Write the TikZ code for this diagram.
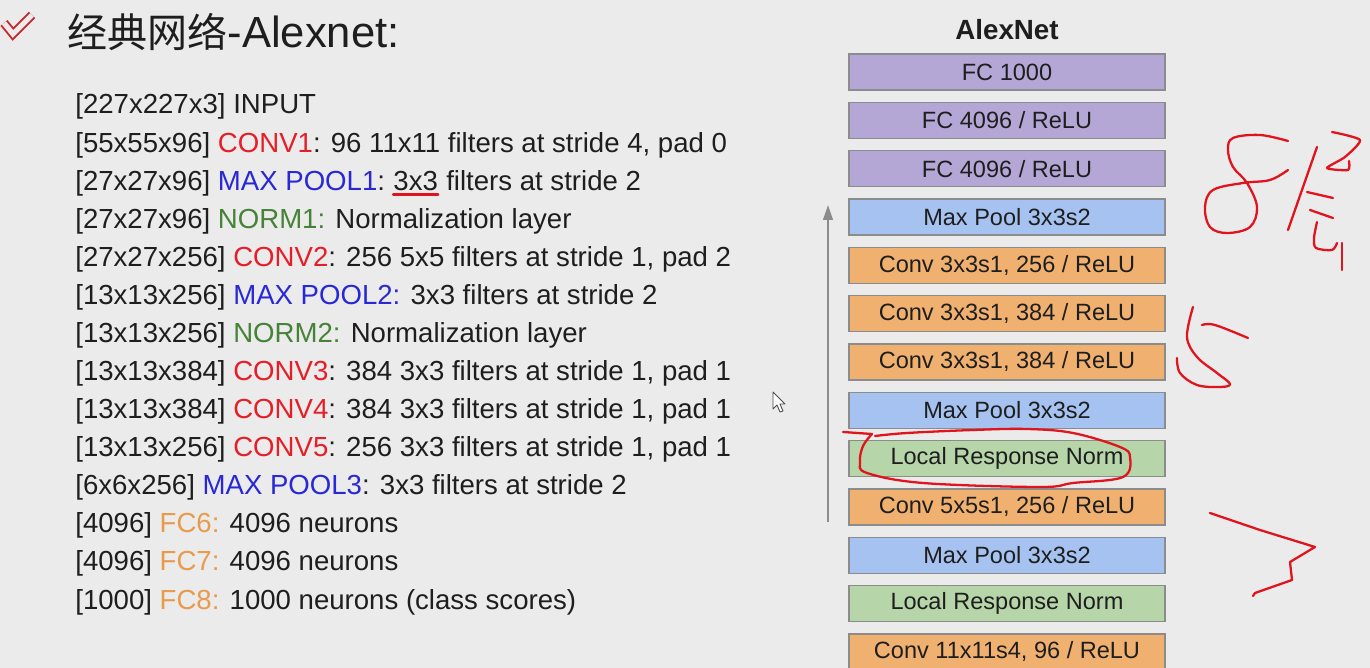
\documentclass[tikz,border=0pt]{standalone}
\usepackage{fontspec}
\setmainfont{Liberation Sans}
\newfontfamily\cjkfont{Noto Sans CJK SC}
\usetikzlibrary{arrows.meta,positioning}
\definecolor{bg}{RGB}{235,235,235}
\definecolor{fcpurple}{RGB}{180,167,214}
\definecolor{poolblue}{RGB}{166,194,240}
\definecolor{convorange}{RGB}{240,177,112}
\definecolor{normgreen}{RGB}{182,213,168}
\definecolor{boxgray}{RGB}{140,140,140}
\definecolor{convred}{RGB}{230,30,40}
\definecolor{pooltext}{RGB}{40,40,215}
\definecolor{normtext}{RGB}{70,130,55}
\definecolor{fctext}{RGB}{232,155,75}
\definecolor{inkred}{RGB}{225,20,30}
\definecolor{checkred}{RGB}{200,40,45}
\definecolor{textblack}{RGB}{30,30,30}

\begin{document}
\begin{tikzpicture}[x=0.02cm,y=-0.02cm]

	\def\lh{38.08}
	\def\bh{48.33}

	\tikzset{layer/.style={draw=boxgray,line width=0.8pt,minimum width=6.32cm,minimum height=0.72cm,inner sep=0pt,font=\fontsize{13.4}{16}\selectfont,text=textblack}}
	\tikzset{spec/.style={anchor=base west,inner sep=0pt,font=\fontsize{15.7}{18}\selectfont,text=textblack}}
	\tikzset{ink/.style={draw=inkred,line width=1.3pt,line cap=round,line join=round}}

	\fill[bg] (0,0) rectangle (1370,668);
	\useasboundingbox (0,0) rectangle (1370,668);

	% title with check mark
	\draw[checkred,line width=1.1pt,double=bg,double distance=3pt,line join=miter] (4,23) -- (13,34) -- (32,15);
	\node[anchor=west,inner sep=0pt,text=textblack] (title) at (67,32) {{\cjkfont\fontsize{22.8}{26}\selectfont 经典网络}{\fontsize{24.8}{28}\selectfont -Alexnet:}};

	% layer list
	\node[spec] (l0) at (75,114) {[227x227x3] INPUT};
	\node[spec] (l1) at (75,114+\lh) {[55x55x96] \textcolor{convred}{CONV1}: 96 11x11 filters at stride 4, pad 0};
	\node[spec] (l2) at (75,114+2*\lh) {[27x27x96] \textcolor{pooltext}{MAX POOL1}:\ \mbox{}};
	\node[spec] (l2u) at (l2.base east) {3x3};
	\node[spec] (l2r) at (l2u.base east) {\mbox{}\ filters at stride 2};
	\node[spec] (l3) at (75,114+3*\lh) {[27x27x96] \textcolor{normtext}{NORM1:} Normalization layer};
	\node[spec] (l4) at (75,114+4*\lh) {[27x27x256] \textcolor{convred}{CONV2}: 256 5x5 filters at stride 1, pad 2};
	\node[spec] (l5) at (75,114+5*\lh) {[13x13x256] \textcolor{pooltext}{MAX POOL2:} 3x3 filters at stride 2};
	\node[spec] (l6) at (75,114+6*\lh) {[13x13x256] \textcolor{normtext}{NORM2:} Normalization layer};
	\node[spec] (l7) at (75,114+7*\lh) {[13x13x384] \textcolor{convred}{CONV3}: 384 3x3 filters at stride 1, pad 1};
	\node[spec] (l8) at (75,114+8*\lh) {[13x13x384] \textcolor{convred}{CONV4}: 384 3x3 filters at stride 1, pad 1};
	\node[spec] (l9) at (75,114+9*\lh) {[13x13x256] \textcolor{convred}{CONV5}: 256 3x3 filters at stride 1, pad 1};
	\node[spec] (l10) at (75,114+10*\lh) {[6x6x256] \textcolor{pooltext}{MAX POOL3}: 3x3 filters at stride 2};
	\node[spec] (l11) at (75,114+11*\lh) {[4096] \textcolor{fctext}{FC6:} 4096 neurons};
	\node[spec] (l12) at (75,114+12*\lh) {[4096] \textcolor{fctext}{FC7:} 4096 neurons};
	\node[spec] (l13) at (75,114+13*\lh) {[1000] \textcolor{fctext}{FC8:} 1000 neurons (class scores)};

	% AlexNet stack
	\node[inner sep=0pt,font=\bfseries\fontsize{15.8}{19}\selectfont,text=textblack] (net) at (1007,30) {AlexNet};
	\node[layer,fill=fcpurple] (fc8) at (1007,72) {FC 1000};
	\node[layer,fill=fcpurple] (fc7) at (1007,72+\bh) {FC 4096 / ReLU};
	\node[layer,fill=fcpurple] (fc6) at (1007,72+2*\bh) {FC 4096 / ReLU};
	\node[layer,fill=poolblue] (pool3) at (1007,72+3*\bh) {Max Pool 3x3s2};
	\node[layer,fill=convorange] (conv5) at (1007,72+4*\bh) {Conv 3x3s1, 256 / ReLU};
	\node[layer,fill=convorange] (conv4) at (1007,72+5*\bh) {Conv 3x3s1, 384 / ReLU};
	\node[layer,fill=convorange] (conv3) at (1007,72+6*\bh) {Conv 3x3s1, 384 / ReLU};
	\node[layer,fill=poolblue] (pool2) at (1007,72+7*\bh) {Max Pool 3x3s2};
	\node[layer,fill=normgreen] (norm2) at (1007,72+8*\bh) {Local Response Norm};
	\node[layer,fill=convorange] (conv2) at (1007,72+9*\bh) {Conv 5x5s1, 256 / ReLU};
	\node[layer,fill=poolblue] (pool1) at (1007,72+10*\bh) {Max Pool 3x3s2};
	\node[layer,fill=normgreen] (norm1) at (1007,72+11*\bh) {Local Response Norm};
	\node[layer,fill=convorange] (conv1) at (1007,72+12*\bh) {Conv 11x11s4, 96 / ReLU};

	% data flow arrow
	\coordinate (flowbot) at (828,522);
	\coordinate (flowtop) at (828,205);
	\draw[line width=1.1pt,draw=black!45,-{Triangle[length=8.5pt,width=5.5pt]}] (flowbot) -- (flowtop);

	% mouse pointer
	\draw[fill=white,draw=black!70,line width=0.5pt,line join=round] (773,392) -- (773,409) -- (777,405) -- (780,412) -- (783,411) -- (780,404) -- (785,404) -- cycle;

	% hand notes
	\draw[ink] ([yshift=-2.5pt]l2u.base west) -- ([yshift=-2.5pt]l2u.base east);
	\draw[ink] (843,432) -- (872,434);
	\draw[ink] plot[smooth,tension=0.6] coordinates {(872,434) (863,446) (860,462) (867,473) (923,483) (1040,487) (1073,483) (1123,477) (1130,457) (1120,447) (1073,433) (1027,429) (973,430) (907,433) (875,436)};
	% 8
	\draw[ink] plot[smooth,tension=0.6] coordinates {(1288,141) (1260,135) (1233,138) (1228,150) (1233,167) (1247,183) (1257,207) (1250,227) (1227,233) (1210,227) (1205,207) (1213,190) (1243,183) (1270,180) (1288,170)};
	% ceng
	\draw[ink] (1317,147) -- (1288,230);
	\draw[ink] plot[smooth,tension=0.4] coordinates {(1332,132) (1360,140) (1345,157) (1327,168) (1348,170) (1349,161)};
	\draw[ink] (1307,192) -- (1333,198);
	\draw[ink] (1310,210) -- (1333,218);
	\draw[ink] plot[smooth,tension=0.5] coordinates {(1317,222) (1314,238) (1316,248) (1332,250) (1337,243)};
	\draw[ink] (1342,243) -- (1342,270);
	% 5
	\draw[ink] plot[smooth,tension=0.6] coordinates {(1193,307) (1187,337) (1197,357) (1217,373) (1230,384) (1220,387) (1197,385) (1180,373) (1177,358)};
	\draw[ink] plot[smooth,tension=0.6] coordinates {(1202,325) (1215,325) (1248,338)};
	% 3
	\draw[ink] (1210,513) -- (1260,530) -- (1315,547) -- (1290,562) -- (1292,580) -- (1255,593) -- (1253,596);

\end{tikzpicture}
\end{document}
